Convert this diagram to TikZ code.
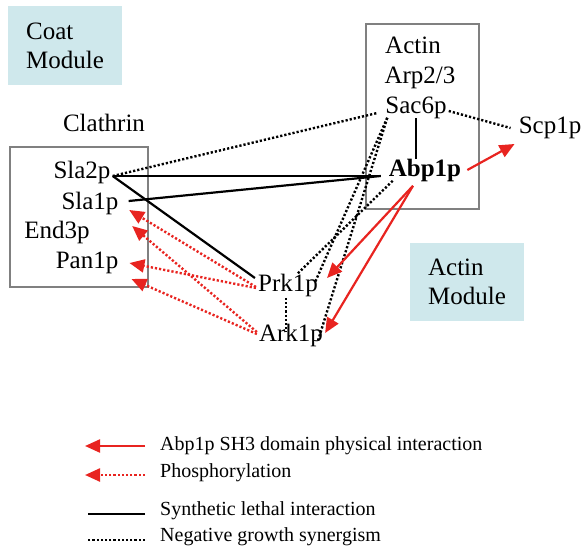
\documentclass[tikz,border=0pt]{standalone}
\usepackage{fontspec}
\setmainfont{Liberation Serif}
\usetikzlibrary{arrows.meta}
\definecolor{modcyan}{RGB}{207,232,236}
\definecolor{intred}{RGB}{232,36,32}
\definecolor{boxgray}{RGB}{128,128,128}

\begin{document}
\begin{tikzpicture}[x=1pt, y=-1pt,
  prot/.style={font=\fontsize{25}{29}\selectfont, inner sep=2pt, text height=0.7em, text depth=0.22em},
  module/.style={fill=modcyan, font=\fontsize{25}{29}\selectfont, align=left,
    minimum width=114pt, minimum height=78pt, inner sep=0pt},
  group/.style={draw=boxgray, line width=1.6pt, inner sep=0pt},
  lethal/.style={line width=2.2pt},
  synergy/.style={line width=2.4pt, dash pattern=on 2.2pt off 2pt},
  sh3/.style={intred, line width=2.2pt, -{Triangle[length=15pt,width=13pt]}},
  phos/.style={intred, line width=2.4pt, dash pattern=on 2.2pt off 2pt, -{Triangle[length=15pt,width=13pt]}},
  legtext/.style={font=\fontsize{20}{24}\selectfont, anchor=west, inner sep=0pt, text height=0.7em, text depth=0.22em}]
  \useasboundingbox (0,0) rectangle (583,551);
  % Modules
  \node[module] (coat) at (65,45.5) {Coat\\Module};
  \node[module] (actmod) at (467,282) {Actin\\Module};
  \node[group, minimum width=138pt, minimum height=140pt] (clathbox) at (79,217) {};
  \node[group, minimum width=113pt, minimum height=185pt] (actbox) at (422.5,116.5) {};
  % Proteins
  \node[prot] (clath) at (104,129) {Clathrin};
  \node[prot] (sla2) at (82,176) {Sla2p};
  \node[prot] (sla1) at (90,207) {Sla1p};
  \node[prot] (end3) at (57,236) {End3p};
  \node[prot] (pan1) at (87,266) {Pan1p};
  \node[prot] (actin) at (413,51) {Actin};
  \node[prot] (arp) at (420,81) {Arp2/3};
  \node[prot] (sac6) at (416,111) {Sac6p};
  \node[prot, font=\bfseries\fontsize{25}{29}\selectfont] (abp1) at (425,174) {Abp1p};
  \node[prot] (scp1) at (550,131) {Scp1p};
  \node[prot] (prk1) at (288,289) {Prk1p};
  \node[prot] (ark1) at (291,339) {Ark1p};
  % Synthetic lethal
  \draw[lethal] (sla2.east) -- ([shift={(-6,2)}]abp1.west);
  \draw[lethal] ([shift={(8,-6)}]sla1.east) -- ([shift={(-6,2)}]abp1.west);
  \draw[lethal] (sla2.east) -- ([shift={(-1,-11)}]prk1.west);
  \draw[lethal, shorten >=8pt] (sac6.south) -- (sac6.south |- abp1.north);
  % Negative growth synergism
  \draw[synergy] (sla2.east) -- ([shift={(-6,2)}]sac6.west);
  \draw[synergy] (sac6.east) -- ([shift={(-6,-3)}]scp1.west);
  \draw[synergy] ([shift={(4,0)}]sac6.south west) -- ([shift={(-5,0)}]prk1.north east);
  \draw[synergy] ([shift={(4,0)}]sac6.south west) -- ([shift={(-7,8)}]ark1.north east);
  \draw[synergy] ([shift={(6,0)}]abp1.south west) -- ([shift={(9,-8)}]prk1.north);
  \draw[synergy] ([shift={(-2,2)}]prk1.south) -- ([shift={(-5,0)}]ark1.north);
  % SH3 domain interactions
  \draw[sh3] ([shift={(-12,5)}]abp1.south) -- ([shift={(7,-11)}]prk1.east);
  \draw[sh3] ([shift={(-12,5)}]abp1.south) -- ([shift={(0,-6)}]ark1.east);
  \draw[sh3] ([shift={(4,-4)}]abp1.east) -- ([shift={(-2,13)}]scp1.west);
  % Phosphorylation
  \draw[phos] ([shift={(0,-2)}]prk1.west) -- ([shift={(8.5,3)}]sla1.east);
  \draw[phos] ([shift={(0,-7)}]ark1.west) -- ([shift={(11.5,19)}]sla1.east);
  \draw[phos] ([shift={(0,-1)}]prk1.west) -- ([shift={(9,-3)}]pan1.east);
  \draw[phos] ([shift={(0,-5)}]ark1.west) -- ([shift={(11,13)}]pan1.east);
  % Legend
  \node[legtext] (leg1) at (160,448) {Abp1p SH3 domain physical interaction};
  \node[legtext] (leg2) at (160,475) {Phosphorylation};
  \node[legtext] (leg3) at (160,513) {Synthetic lethal interaction};
  \node[legtext] (leg4) at (160,539) {Negative growth synergism};
  \coordinate (leg1end) at (85,446);
  \coordinate (leg2end) at (85,475);
  \coordinate (leg3end) at (88,514);
  \coordinate (leg4end) at (88,540);
  \draw[sh3] ([shift={(-15,-2)}]leg1.west) -- (leg1end);
  \draw[phos] ([shift={(-15,0)}]leg2.west) -- (leg2end);
  \draw[lethal] ([shift={(-15,1)}]leg3.west) -- (leg3end);
  \draw[synergy] ([shift={(-15,1)}]leg4.west) -- (leg4end);
\end{tikzpicture}
\end{document}
